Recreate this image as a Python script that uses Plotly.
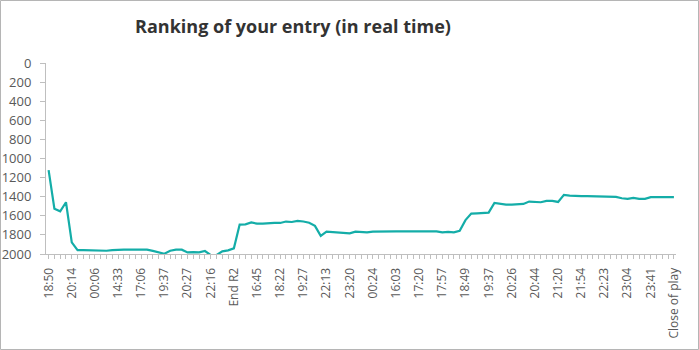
import plotly.graph_objects as go

title_text = "Ranking of your entry (in real time)"

tick_labels = ["18:50", "20:14", "00:06", "14:33", "17:06", "19:37", "20:27", "22:16",
               "End R2", "16:45", "18:22", "19:27", "22:13", "23:20", "00:24", "16:03",
               "17:20", "17:57", "18:49", "19:37", "20:26", "20:44", "21:20", "21:54",
               "22:23", "23:04", "23:41", "Close of play"]
label_every = 4

rank = [1122, 1525, 1553, 1458, 1878, 1959, 1959, 1962, 1966, 1966,
        1966, 1960, 1955, 1955, 1955, 1955, 1955, 1955, 1968, 1985,
        1997, 1966, 1955, 1955, 1983, 1980, 1983, 1969, 2011, 2011,
        1972, 1962, 1941, 1692, 1690, 1670, 1682, 1682, 1677, 1675,
        1675, 1660, 1665, 1654, 1660, 1672, 1705, 1810, 1765, 1770,
        1775, 1777, 1784, 1766, 1766, 1773, 1765, 1763, 1763, 1763,
        1763, 1763, 1763, 1763, 1763, 1763, 1763, 1763, 1773, 1768,
        1773, 1756, 1645, 1577, 1574, 1570, 1567, 1465, 1476, 1483,
        1483, 1476, 1476, 1451, 1458, 1458, 1444, 1444, 1455, 1381,
        1388, 1395, 1395, 1395, 1395, 1395, 1400, 1402, 1402, 1416,
        1423, 1412, 1423, 1423, 1405, 1405, 1405, 1405, 1405]

y_ticks = [0, 200, 400, 600, 800, 1000, 1200, 1400, 1600, 1800, 2000]

x_pos = list(range(len(rank)))
tick_pos = x_pos[::label_every]

W, H = 699, 350
ML, MR, MT, MB = 46, 23, 63, 96
PW, PH = W - ML - MR, H - MT - MB

axis_color = "#bfbfbf"
text_color = "#595959"
font_family = "Open Sans, Noto Sans, sans-serif"

fig = go.Figure()
fig.add_trace(go.Scatter(
    x=x_pos, y=rank, mode="lines",
    line=dict(color="#14ADA8", width=2.2),
    hoverinfo="skip", showlegend=False,
))

fig.update_layout(
    width=W, height=H,
    margin=dict(l=ML, r=MR, t=MT, b=MB, pad=0),
    paper_bgcolor="white", plot_bgcolor="white",
    font=dict(family=font_family, size=12, color=text_color),
    title=dict(text="<b>" + title_text + "</b>", x=(293) / W, xanchor="center",
               y=1 - 27 / H, yanchor="middle",
               font=dict(family=font_family, size=18, color="#333333")),
    xaxis=dict(
        range=[-0.45, len(rank) - 1 + 0.36],
        tickmode="array", tickvals=tick_pos, ticktext=tick_labels,
        tickangle=-90, showgrid=False, zeroline=False, automargin=False,
        showline=True, linecolor=axis_color, linewidth=1,
        ticks="outside", ticklen=4, tickcolor=axis_color,
        ticklabelstandoff=4,
        tickfont=dict(size=12, color=text_color),
        minor=dict(tickmode="array", tickvals=x_pos, ticks="outside", ticklen=4,
                   tickcolor=axis_color, showgrid=False),
    ),
    yaxis=dict(
        range=[2000, 0], tickmode="array", tickvals=y_ticks,
        showgrid=False, zeroline=False, automargin=False,
        showline=True, linecolor=axis_color, linewidth=1,
        ticks="outside", ticklen=5, tickcolor=axis_color,
        ticklabelstandoff=6,
        tickfont=dict(size=13, color=text_color),
    ),
    shapes=[dict(type="rect", xref="paper", yref="paper",
                 x0=(-ML + 0.5) / PW, x1=(W - ML - 0.5) / PW,
                 y0=(-MB + 0.5) / PH, y1=(H - MB - 0.5) / PH,
                 line=dict(color="#b5b5b5", width=1), layer="above")],
)

fig.write_html("out.html")
